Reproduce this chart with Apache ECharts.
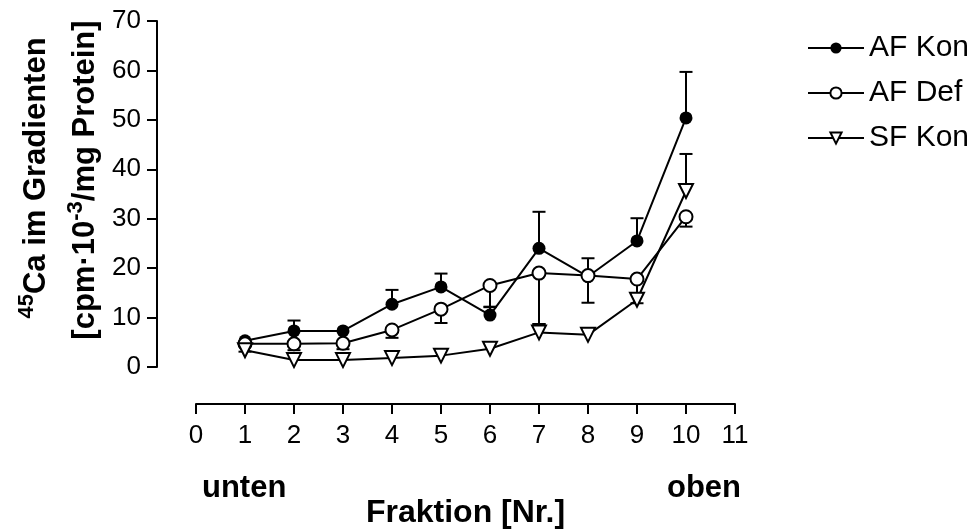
<!DOCTYPE html>
<html>
<head>
<meta charset="utf-8">
<script src="https://cdn.jsdelivr.net/npm/echarts@6/dist/echarts.min.js"></script>
<style>
html,body{margin:0;padding:0;background:#fff}
#chart{width:979px;height:532px}
</style>
</head>
<body>
<div id="chart"></div>
<script>
// Fraktion 1 (unten) .. 10 (oben)
const fractions = [1, 2, 3, 4, 5, 6, 7, 8, 9, 10]
const xTicks = [0, 11]
const yTicks = [0, 70]

const afKon = [5.3, 7.3, 7.3, 12.7, 16.2, 10.5, 24.0, 18.3, 25.5, 50.4]
const afKonTop = [null, 9.4, null, 15.6, 18.9, 12.1, 31.4, 22.0, 30.1, 59.7]

const afDef = [4.7, 4.7, 4.8, 7.5, 11.7, 16.5, 19.0, 18.5, 17.8, 30.4]
const afDefLow = [3.1, 3.4, 3.6, 5.9, 8.9, 12.2, 8.7, 13.0, 12.9, 28.4]

const sfKon = [3.4, 1.4, 1.4, 1.8, 2.3, 3.7, 7.0, 6.5, 13.6, 35.6]
const sfKonTop = [null, null, null, null, null, null, 8.7, null, null, 43.1]

const font = 'Liberation Sans, Arial, sans-serif'

function pairs(vals) {
  return fractions.map((f, i) => [f, vals[i]])
}

// vertical error bar from value to end, with a cap
function errorBars(vals, ends) {
  let data = []
  fractions.forEach((f, i) => {
    if (ends[i] != null) data.push([f, vals[i], ends[i]])
  })
  return {
    type: 'custom',
    silent: true,
    z: 1,
    data: data,
    renderItem: (params, api) => {
      let p0 = api.coord([api.value(0), api.value(1)])
      let p1 = api.coord([api.value(0), api.value(2)])
      let hw = 6.5
      let st = { stroke: '#000', lineWidth: 2 }
      return {
        type: 'group',
        children: [
          { type: 'line', shape: { x1: p0[0], y1: p0[1], x2: p1[0], y2: p1[1] }, style: st },
          { type: 'line', shape: { x1: p1[0] - hw, y1: p1[1], x2: p1[0] + hw, y2: p1[1] }, style: st }
        ]
      }
    }
  }
}

let chart = echarts.init(document.getElementById('chart'))

let option = {
  animation: false,
  backgroundColor: '#fff',
  grid: { left: 196, right: 244, top: 21, bottom: 165, outerBoundsMode: 'none' },
  legend: {
    orient: 'vertical',
    left: 807,
    top: 33,
    padding: 0,
    itemWidth: 56,
    itemHeight: 14,
    itemGap: 15,
    textStyle: { fontFamily: font, fontSize: 30, color: '#000', lineHeight: 30 },
    data: ['AF Kon', 'AF Def', 'SF Kon']
  },
  xAxis: {
    type: 'value',
    min: xTicks[0],
    max: xTicks[1],
    interval: 1,
    offset: 37,
    axisLine: { show: true, onZero: false, lineStyle: { color: '#000', width: 2 } },
    axisTick: { show: true, length: 10, lineStyle: { color: '#000', width: 2 } },
    axisLabel: { fontFamily: font, fontSize: 26, color: '#000', margin: 19 },
    splitLine: { show: false },
    name: 'Fraktion [Nr.]',
    nameLocation: 'middle',
    nameGap: 93,
    nameTextStyle: { fontFamily: font, fontSize: 32, fontWeight: 'bold', color: '#000' }
  },
  yAxis: {
    type: 'value',
    min: yTicks[0],
    max: yTicks[1],
    interval: 10,
    offset: 39,
    axisLine: { show: true, onZero: false, lineStyle: { color: '#000', width: 2 } },
    axisTick: { show: true, length: 10, lineStyle: { color: '#000', width: 2 } },
    axisLabel: { fontFamily: font, fontSize: 26, color: '#000', margin: 16 },
    splitLine: { show: false }
  },
  graphic: [
    {
      type: 'text', x: 36, y: 178, rotation: Math.PI / 2,
      style: {
        text: '{s|45}{b|Ca im Gradienten}',
        align: 'center', verticalAlign: 'middle',
        rich: {
          b: { fontFamily: font, fontSize: 31, fontWeight: 'bold', fill: '#000', lineHeight: 40 },
          s: { fontFamily: font, fontSize: 22, fontWeight: 'bold', fill: '#000', lineHeight: 18, verticalAlign: 'top' }
        }
      }
    },
    {
      type: 'text', x: 85, y: 180, rotation: Math.PI / 2,
      style: {
        text: '{b|[cpm·10}{s|-3}{b|/mg Protein]}',
        align: 'center', verticalAlign: 'middle',
        rich: {
          b: { fontFamily: font, fontSize: 31, fontWeight: 'bold', fill: '#000', lineHeight: 40 },
          s: { fontFamily: font, fontSize: 22, fontWeight: 'bold', fill: '#000', lineHeight: 18, verticalAlign: 'top' }
        }
      }
    },
    {
      type: 'text', x: 202, y: 488,
      style: { text: 'unten', font: 'bold 31px ' + font, fill: '#000', align: 'left', verticalAlign: 'middle' }
    },
    {
      type: 'text', x: 741, y: 488,
      style: { text: 'oben', font: 'bold 31px ' + font, fill: '#000', align: 'right', verticalAlign: 'middle' }
    }
  ],
  series: [
    {
      name: 'AF Kon',
      type: 'line',
      z: 3,
      data: pairs(afKon),
      symbol: 'circle',
      symbolSize: 13,
      itemStyle: { color: '#000' },
      lineStyle: { color: '#000', width: 2 }
    },
    {
      name: 'AF Def',
      type: 'line',
      z: 3,
      data: pairs(afDef),
      symbol: 'circle',
      symbolSize: 13,
      itemStyle: { color: '#fff', borderColor: '#000', borderWidth: 2 },
      lineStyle: { color: '#000', width: 2 }
    },
    {
      name: 'SF Kon',
      type: 'line',
      z: 3,
      data: pairs(sfKon),
      symbol: 'triangle',
      symbolRotate: 180,
      symbolSize: 14,
      itemStyle: { color: '#fff', borderColor: '#000', borderWidth: 2 },
      lineStyle: { color: '#000', width: 2 }
    },
    errorBars(afKon, afKonTop),
    errorBars(afDef, afDefLow),
    errorBars(sfKon, sfKonTop)
  ]
}

chart.setOption(option)
</script>
</body>
</html>
